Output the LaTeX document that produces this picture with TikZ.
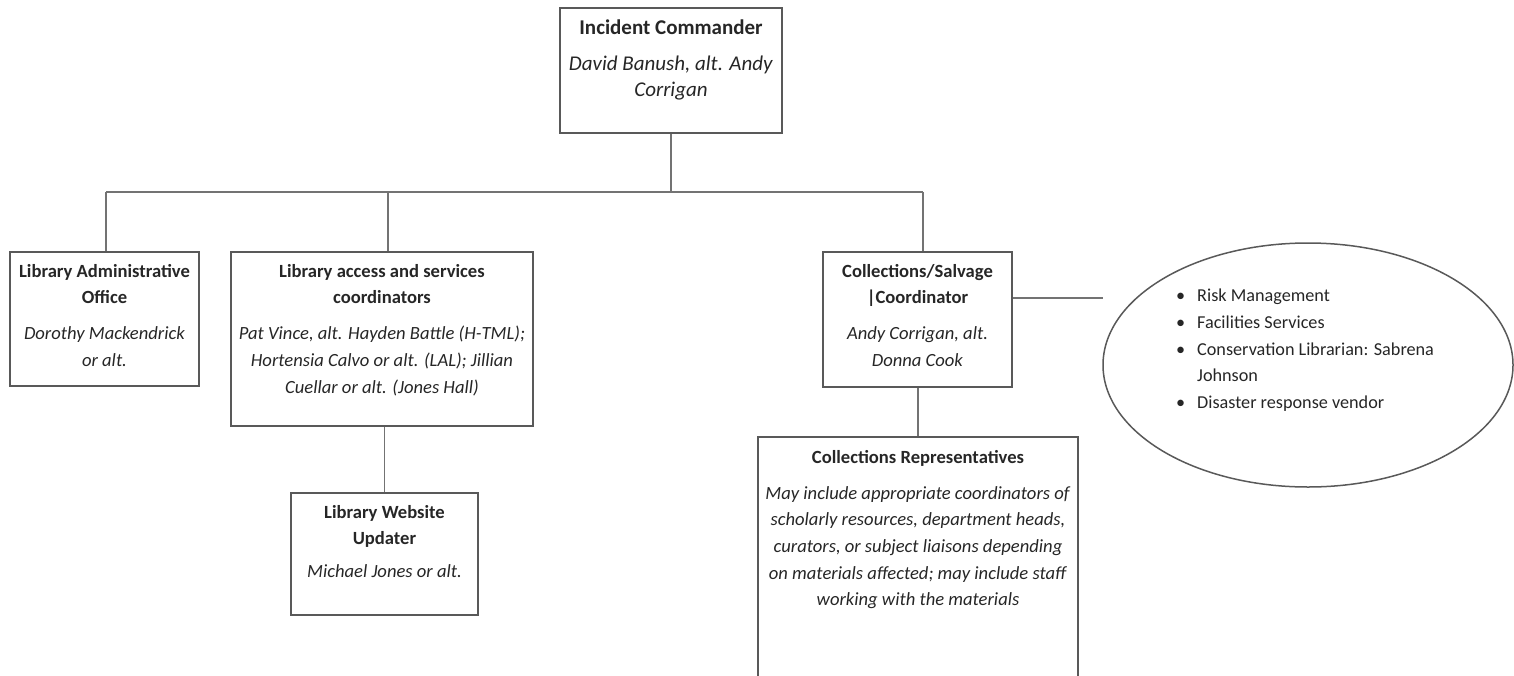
\documentclass[tikz,border=0pt]{standalone}
\usepackage{fontspec}
\setmainfont{Carlito}
\usetikzlibrary{positioning,shapes.geometric}
\tikzset{
  box/.style={draw=black!65,line width=1.5pt,rectangle,inner sep=0pt},
  txt/.style={anchor=north,inner sep=0pt,align=center,text=black!85,font=\fontsize{18.6}{26.7}\selectfont},
  wire/.style={draw=black!55,line width=1.5pt},
}
\newcommand{\hd}[1]{\textbf{#1}}
\newcommand{\nm}[1]{\textit{#1}}
\newcommand{\bul}{\makebox[21pt][l]{\textbullet}}
\begin{document}
\begin{tikzpicture}[x=1pt,y=-1pt]
  \useasboundingbox (0,0) rectangle (1514,675);
  % boxes
  \node[box,minimum width=222pt,minimum height=125pt] (ic) at (671,70.5){};
  \node[box,minimum width=189pt,minimum height=134pt] (admin) at (104.5,319){};
  \node[box,minimum width=302pt,minimum height=174pt] (access) at (382,339){};
  \node[box,minimum width=189pt,minimum height=135pt] (salvage) at (917.5,319.5){};
  \node[box,minimum width=320pt,minimum height=263pt] (reps) at (918,568.5){};
  \node[box,minimum width=187pt,minimum height=122pt] (web) at (384.5,554){};
  \node[draw=black!65,line width=1.5pt,ellipse,minimum width=410pt,minimum height=244pt] (partners) at (1308,365){};
  % texts
  \node[txt,font=\fontsize{21}{26.7}\selectfont] (ic-t) at ([yshift=-8pt]ic.north){\strut\hd{Incident Commander}\\[9.3pt]\nm{David Banush, alt. Andy}\\\nm{Corrigan}};
  \node[txt] (admin-t) at ([yshift=-7pt]admin.north){\strut\hd{Library Administrative}\\\hd{Office}\\[9.3pt]\nm{Dorothy Mackendrick}\\\nm{or alt.}};
  \node[txt] (access-t) at ([yshift=-7pt]access.north){\strut\hd{Library access and services}\\\hd{coordinators}\\[9.3pt]\nm{Pat Vince, alt. Hayden Battle (H-TML);}\\\nm{Hortensia Calvo or alt. (LAL); Jillian}\\\nm{Cuellar or alt. (Jones Hall)}};
  \node[txt] (salvage-t) at ([yshift=-7pt]salvage.north){\strut\hd{Collections/Salvage}\\\hd{|Coordinator}\\[9.3pt]\nm{Andy Corrigan, alt.}\\\nm{Donna Cook}};
  \node[txt] (reps-t) at ([yshift=-8pt]reps.north){\strut\hd{Collections Representatives}\\[9.3pt]\nm{May include appropriate coordinators of}\\\nm{scholarly resources, department heads,}\\\nm{curators, or subject liaisons depending}\\\nm{on materials affected; may include staff}\\\nm{working with the materials}};
  \node[txt] (web-t) at ([yshift=-7pt]web.north){\strut\hd{Library Website}\\\hd{Updater}\\[6pt]\nm{Michael Jones or alt.}};
  \node[txt,anchor=north west,align=left,font=\fontsize{18.2}{26.7}\selectfont] (partners-t) at (1176,283){\strut\bul Risk Management\\\bul Facilities Services\\\bul Conservation Librarian: Sabrena\\\hspace*{21pt}Johnson\\\bul Disaster response vendor};
  % connectors
  \coordinate (bl) at (106,192);
  \coordinate (bm) at (388,192);
  \coordinate (br) at (923,192);
  \coordinate (tip) at (1103,298);
  \draw[wire] (ic.south) -- (ic.south |- bl);
  \draw[wire] (bl) -- (br);
  \draw[wire] (bl) -- (bl |- admin.north);
  \draw[wire] (bm) -- (bm |- access.north);
  \draw[wire] (br) -- (br |- salvage.north);
  \draw[wire] (web.north) -- (web.north |- access.south);
  \draw[wire] (reps.north) -- (reps.north |- salvage.south);
  \draw[wire] (salvage.east |- tip) -- (tip);
\end{tikzpicture}
\end{document}
